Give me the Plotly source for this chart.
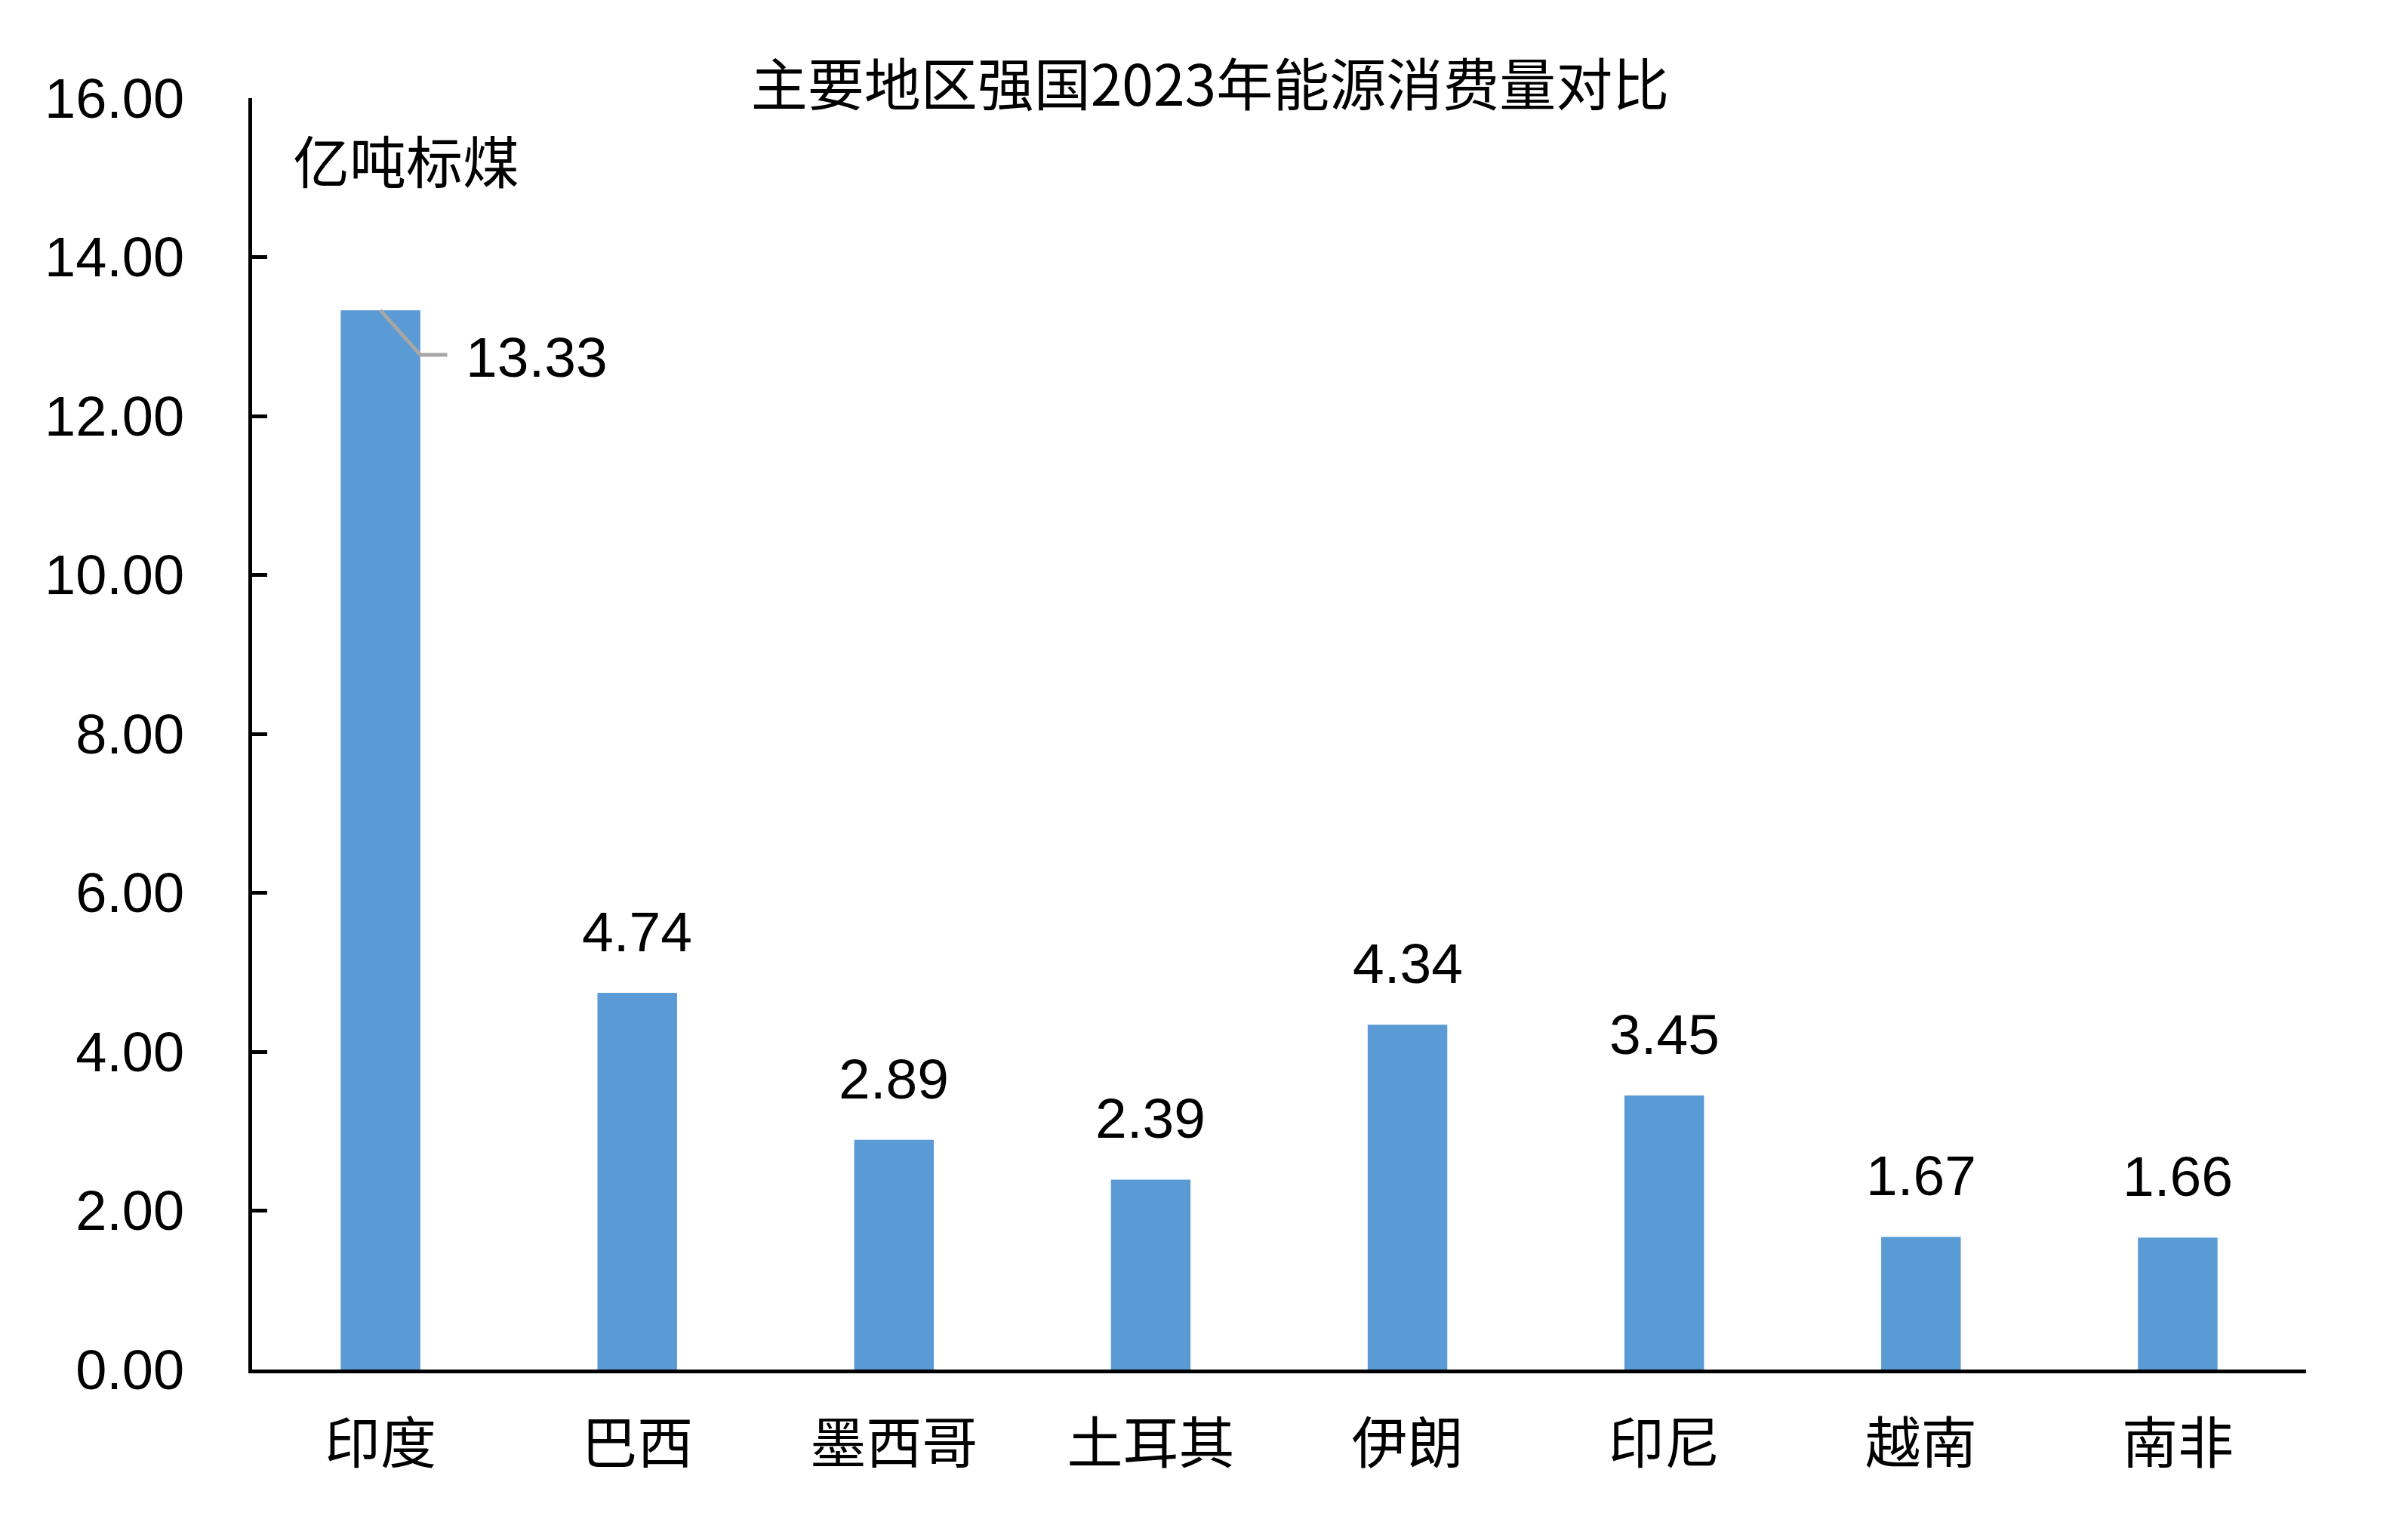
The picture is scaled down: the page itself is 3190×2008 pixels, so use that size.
import plotly.graph_objects as go

categories = ["印度", "巴西", "墨西哥", "土耳其", "伊朗", "印尼", "越南", "南非"]
values = [13.33, 4.74, 2.89, 2.39, 4.34, 3.45, 1.67, 1.66]
y_ticks = [0, 2, 4, 6, 8, 10, 12, 14, 16]
y_tick_labels = ["0.00", "2.00", "4.00", "6.00", "8.00", "10.00", "12.00", "14.00", "16.00"]
title_text = "主要地区强国2023年能源消费量对比"
unit_text = "亿吨标煤"

CJK = "Noto Sans CJK SC"
LAT = "Liberation Sans, Arial"
BAR = "#5B9BD5"

fig = go.Figure()
fig.add_trace(go.Bar(x=categories, y=values, marker=dict(color=BAR, line=dict(width=0)),
                     width=0.31, hoverinfo="x+y"))

annotations = []
for i, (c, v) in enumerate(zip(categories, values)):
    if i == 0:
        continue
    annotations.append(dict(x=c, y=v, xref="x", yref="y", text=f"{v:.2f}", showarrow=False,
                            yanchor="bottom", yshift=37,
                            font=dict(family=LAT, size=75, color="#000000")))

# India label with leader line
v0 = values[0]
annotations.append(dict(x=0.31, y=v0 - 0.56, xref="x", yref="y", text=f"{v0:.2f}", showarrow=False,
                        xanchor="left", yanchor="middle", xshift=5, yshift=-3,
                        font=dict(family=LAT, size=75, color="#000000")))
shapes = [dict(type="path", xref="x", yref="y",
               path=f"M 0,{v0} L 0.155,{v0 - 0.56} L 0.26,{v0 - 0.56}",
               line=dict(color="#A6A6A6", width=5))]

annotations.append(dict(x=0, y=16, xref="paper", yref="y", text=unit_text, showarrow=False,
                        xanchor="left", yanchor="middle", xshift=52, yshift=-80,
                        font=dict(family=CJK, size=75, color="#000000")))

fig.update_layout(
    width=3190, height=2008,
    margin=dict(l=326, r=143, t=122, b=202),
    paper_bgcolor="white", plot_bgcolor="white",
    showlegend=False,
    bargap=0.69,
    title=dict(text=title_text, x=0.5, xref="container", xanchor="center",
               y=1 - 106 / 2008, yref="container", yanchor="middle",
               font=dict(family=CJK, size=75, color="#000000")),
    annotations=annotations,
    shapes=shapes,
    xaxis=dict(
        showline=True, linecolor="#000000", linewidth=5,
        ticks="", showgrid=False, zeroline=False,
        tickfont=dict(family=CJK, size=74, color="#000000"),
        ticklabelstandoff=30,
    ),
    yaxis=dict(
        range=[0, 16], tickvals=y_ticks, ticktext=y_tick_labels,
        showline=True, linecolor="#000000", linewidth=5,
        ticks="inside", ticklen=20, tickwidth=5, tickcolor="#000000",
        showgrid=False, zeroline=False,
        tickfont=dict(family=LAT, size=74, color="#000000"),
        ticklabelstandoff=70,
    ),
)

fig.write_html("out.html")
